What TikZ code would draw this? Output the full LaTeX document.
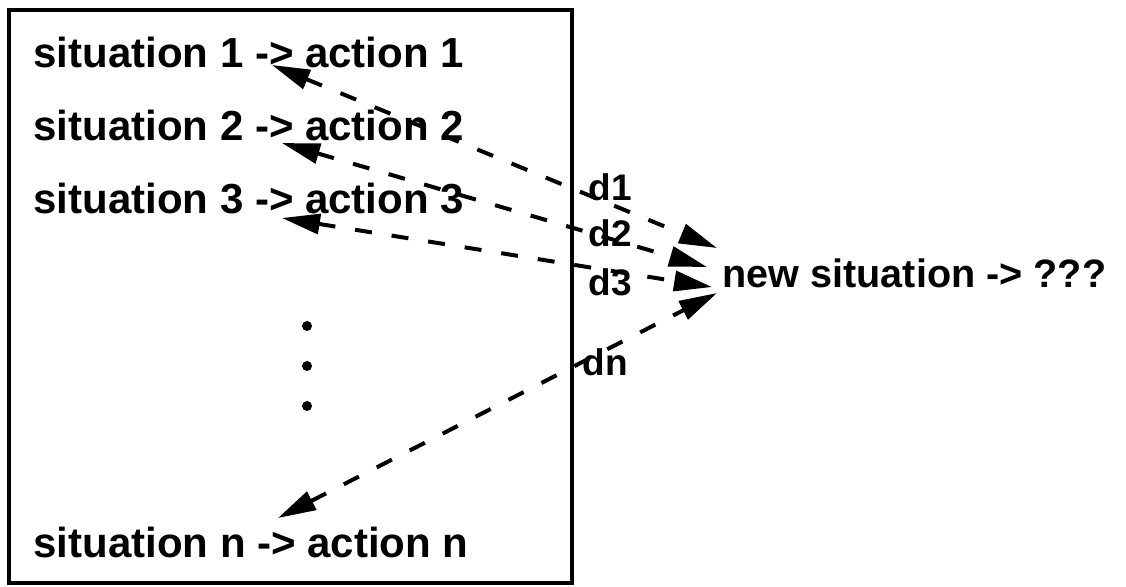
\documentclass[tikz,border=0pt]{standalone}
\usepackage{fontspec}
\setmainfont{Liberation Sans}
\usetikzlibrary{arrows.meta}
\begin{document}
\begin{tikzpicture}[x=0.5pt,y=-0.5pt,
  txt/.style={font=\bfseries\fontsize{21}{24}\selectfont, inner sep=0pt, anchor=base west},
  lbl/.style={font=\bfseries\fontsize{18.5}{22}\selectfont, inner sep=0pt, anchor=base west},
  link/.style={line width=2pt, dash pattern=on 8.5pt off 10pt,
    {Triangle[length=19pt,width=10pt]}-{Triangle[length=19pt,width=10pt]}},
  dotmark/.style={circle, fill=black, inner sep=0pt, minimum size=5pt},
  frame/.style={line width=2pt}]
\useasboundingbox (0,0) rectangle (1126,586);
\draw[frame] (9,10) rectangle (572,583);
\node[txt] (s1) at (33,67) {situation 1 -> action 1};
\node[txt] (s2) at (33,140) {situation 2 -> action 2};
\node[txt] (s3) at (33,213) {situation 3 -> action 3};
\node[txt] (sn) at (33,557) {situation n -> action n};
\node[txt, font=\bfseries\fontsize{19.8}{24}\selectfont] (new) at (722,287) {new situation -> ???};
\node[dotmark] (p1) at (307,326) {};
\node[dotmark] (p2) at (307,366) {};
\node[dotmark] (p3) at (307,406) {};
\node[lbl] (d1) at (588,200) {d1};
\node[lbl] (d2) at (588,246) {d2};
\node[lbl] (d3) at (588,295) {d3};
\node[lbl] (dn) at (582,375) {dn};
\coordinate (a1) at (272,65);
\coordinate (a2) at (282,143);
\coordinate (a3) at (282,218);
\coordinate (an) at (278,518);
\coordinate (b1) at (717,248);
\coordinate (b2) at (707,267);
\coordinate (b3) at (712,287);
\coordinate (bn) at (717,293);
\draw[link] (a1) -- (b1);
\draw[link] (a2) -- (b2);
\draw[link] (a3) -- (b3);
\draw[link] (an) -- (bn);
\end{tikzpicture}
\end{document}
